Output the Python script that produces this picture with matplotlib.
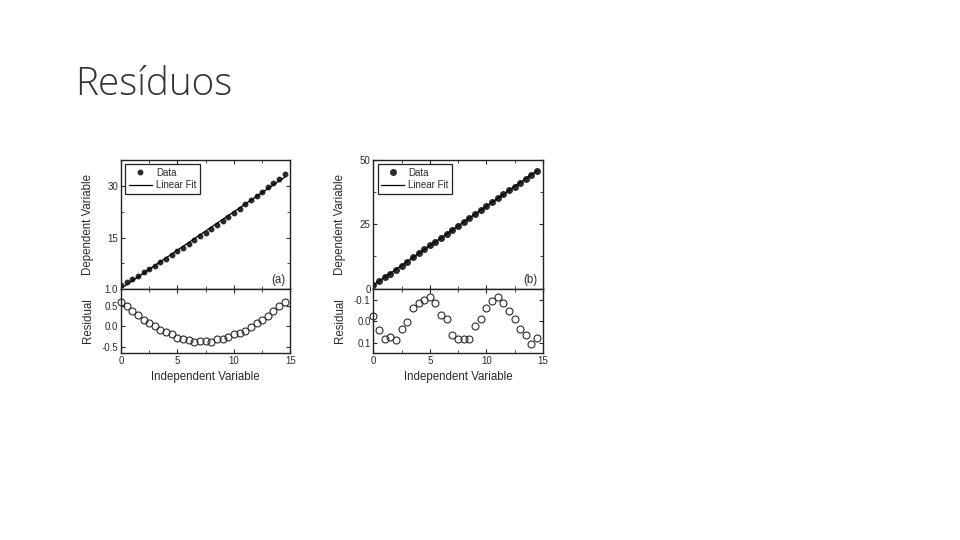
import numpy as np
import matplotlib
matplotlib.use("Agg")
import matplotlib.pyplot as plt
from matplotlib.ticker import MultipleLocator

# independent variable, same for both panels
x = np.arange(0, 14.51, 0.5)

# panel (a): curved data, parabolic residuals
y_a = [1.10, 2.03, 2.97, 3.92, 4.89, 5.87, 6.86, 7.87, 8.89, 9.93,
       10.97, 12.03, 13.11, 14.20, 15.30, 16.41, 17.54, 18.68, 19.84, 21.01,
       22.19, 23.39, 24.60, 25.82, 27.05, 28.30, 29.57, 30.84, 32.13, 33.44]
res_a = [0.61, 0.50, 0.38, 0.27, 0.16, 0.08, 0.00, -0.08, -0.15, -0.20,
         -0.29, -0.31, -0.34, -0.39, -0.37, -0.37, -0.38, -0.31, -0.31, -0.26,
         -0.20, -0.16, -0.11, -0.02, 0.08, 0.16, 0.25, 0.37, 0.50, 0.61]

# panel (b): straight data, periodic residuals
y_b = [1.32, 2.79, 4.29, 5.83, 7.35, 8.94, 10.51, 12.11, 13.67, 15.22,
       16.77, 18.27, 19.75, 21.27, 22.72, 24.24, 25.78, 27.31, 28.91, 30.48,
       32.06, 33.63, 35.18, 36.69, 38.19, 39.69, 41.18, 42.68, 44.17, 45.74]
res_b = [0.023, -0.042, -0.085, -0.074, -0.088, -0.038, -0.005, 0.062, 0.088, 0.100,
         0.115, 0.085, 0.031, 0.011, -0.066, -0.082, -0.082, -0.085, -0.023, 0.012,
         0.063, 0.097, 0.112, 0.085, 0.049, 0.011, -0.034, -0.066, -0.108, -0.077]

txt = '#2a2a2a'
plt.rcParams['font.family'] = ['Liberation Sans', 'DejaVu Sans']
plt.rcParams['text.color'] = txt
plt.rcParams['axes.labelcolor'] = txt
plt.rcParams['xtick.color'] = txt
plt.rcParams['ytick.color'] = txt

fig = plt.figure(figsize=(9.6, 5.4), dpi=100)
fig.patch.set_facecolor('white')

fig.text(75/960, 1-95/540, 'Resíduos', fontsize=27.8, color='#333333',
         family=['Open Sans', 'DejaVu Sans'], fontweight='light')


def style(ax, xlabels):
    ax.tick_params(direction='in', top=True, right=True, which='both',
                   labelsize=7, length=3, pad=2)
    ax.tick_params(which='minor', length=2)
    ax.xaxis.set_major_locator(MultipleLocator(5))
    ax.xaxis.set_minor_locator(MultipleLocator(2.5))
    ax.set_xlim(0, 15)
    if not xlabels:
        ax.tick_params(labelbottom=False)
    for s in ax.spines.values():
        s.set_linewidth(1.0)
        s.set_color('#222222')


def panel(left, y, res, top_ylim, top_ticks, top_labels, top_minor,
          res_ylim, res_ticks, res_labels, tag, ms):
    ax1 = fig.add_axes([left, 0.4657, 0.1765, 0.2380])
    ax2 = fig.add_axes([left, 0.3463, 0.1765, 0.1194])
    k, b = np.polyfit(x, y, 1)
    ax1.plot(x, y, 'o', color='#2b2b2b', ms=ms, mec='#2b2b2b', label='Data')
    ax1.plot(x, k*x + b, '-', color='black', lw=0.9, label='Linear Fit')
    ax1.set_ylim(*top_ylim)
    ax1.set_yticks(top_ticks)
    ax1.set_yticklabels(top_labels)
    ax1.set_yticks(top_minor, minor=True)
    style(ax1, False)
    ax1.set_ylabel('Dependent Variable', fontsize=8.3)
    ax1.yaxis.set_label_coords(-0.16, 0.5)
    leg = ax1.legend(loc='upper left', fontsize=7, frameon=True, fancybox=False,
                     edgecolor='#222222', framealpha=1, handlelength=2.4,
                     borderpad=0.35, labelspacing=0.25, handletextpad=0.4,
                     borderaxespad=0.45)
    leg.get_frame().set_linewidth(0.9)
    ax1.text(0.97, 0.07, tag, transform=ax1.transAxes, fontsize=8.3,
             ha='right', va='center')

    ax2.plot(x, res, 'o', mfc='none', mec='#2b2b2b', ms=5, mew=0.8, clip_on=False)
    ax2.set_ylim(*res_ylim)
    ax2.set_yticks(res_ticks)
    ax2.set_yticklabels(res_labels)
    style(ax2, True)
    ax2.set_ylabel('Residual', fontsize=8.3)
    ax2.yaxis.set_label_coords(-0.16, 0.5)
    ax2.set_xlabel('Independent Variable', fontsize=8.3, labelpad=4)


panel(0.1260, y_a, res_a, (0.2, 37.5), [0.2, 15, 30], ['1.0', '15', '30'], [7.5, 22.5],
      (-0.655, 0.93), [-0.5, 0.0, 0.5], ['-0.5', '0.0', '0.5'], '(a)', 3.2)
panel(0.3889, y_b, res_b, (0, 50), [0, 25, 50], ['0', '25', '50'], [12.5, 37.5],
      (-0.149, 0.154), [-0.1, 0.0, 0.1], ['0.1', '0.0', '-0.1'], '(b)', 4.0)

fig.savefig('out.png', dpi=100)
